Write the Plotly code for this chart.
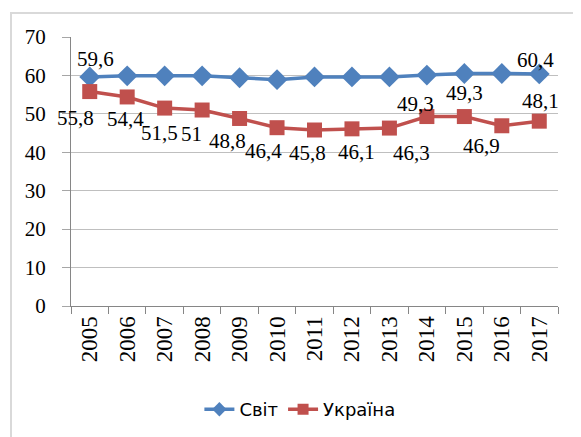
import plotly.graph_objects as go

years = ["2005", "2006", "2007", "2008", "2009", "2010", "2011",
         "2012", "2013", "2014", "2015", "2016", "2017"]
world = [59.6, 59.9, 59.9, 59.9, 59.4, 58.9, 59.6, 59.6, 59.6, 60.1, 60.5, 60.5, 60.4]
ukraine = [55.8, 54.4, 51.5, 51.0, 48.8, 46.4, 45.8, 46.1, 46.3, 49.3, 49.3, 46.9, 48.1]
world_labelled = [0, 12]
y_ticks = [0, 10, 20, 30, 40, 50, 60, 70]

# label nudges (px) to mimic the manually placed Excel labels
ukr_label_shift = [(-14, -26), (-2, -22), (-5, -25), (-11, -24), (-12, -23), (-14, -23),
                   (-7, -23), (5, -23), (22, -25), (-11, 13), (0, 24), (-20, -20), (1, 20)]
world_label_shift = {0: (6, 18), 12: (-4, 14)}

BLUE = "#4F81BD"
RED = "#C0504D"
SERIF = "Liberation Serif, Times New Roman, serif"


def fmt(v):
    if float(v).is_integer():
        return str(int(v))
    return f"{v:.1f}".replace(".", ",")


fig = go.Figure()
fig.add_trace(go.Scatter(
    x=years, y=world, name="Світ", mode="lines+markers", legendgroup="w", showlegend=False,
    line=dict(color=BLUE, width=3.5),
    marker=dict(symbol="diamond", size=16, color=BLUE),
))
fig.add_trace(go.Scatter(
    x=years, y=ukraine, name="Україна", mode="lines+markers", legendgroup="u", showlegend=False,
    line=dict(color=RED, width=3.5),
    marker=dict(symbol="square", size=15, color=RED),
))
# legend-only entries with the smaller Excel legend symbols
fig.add_trace(go.Scatter(
    x=[None], y=[None], name="Світ", mode="lines+markers", legendgroup="w",
    line=dict(color=BLUE, width=3.5), marker=dict(symbol="diamond", size=11, color=BLUE),
))
fig.add_trace(go.Scatter(
    x=[None], y=[None], name="Україна", mode="lines+markers", legendgroup="u",
    line=dict(color=RED, width=3.5), marker=dict(symbol="square", size=11, color=RED),
))

annotations = []
for i, v in enumerate(ukraine):
    dx, dy = ukr_label_shift[i]
    annotations.append(dict(x=i, y=v, xref="x", yref="y", text=fmt(v), showarrow=False,
                            xshift=dx, yshift=dy,
                            font=dict(family=SERIF, size=21, color="#000000")))
for i in world_labelled:
    dx, dy = world_label_shift[i]
    annotations.append(dict(x=i, y=world[i], xref="x", yref="y", text=fmt(world[i]),
                            showarrow=False, xshift=dx, yshift=dy,
                            font=dict(family=SERIF, size=21, color="#000000")))

fig.update_layout(
    width=573, height=429,
    margin=dict(l=63, r=23, t=29, b=131, autoexpand=False),
    paper_bgcolor="white", plot_bgcolor="white",
    showlegend=True,
    legend=dict(orientation="h", x=0.47, xanchor="center", y=-0.385, yanchor="middle",
                font=dict(family="DejaVu Sans, sans-serif", size=18, color="#000000"),
                bgcolor="rgba(0,0,0,0)"),
    annotations=annotations,
    shapes=[dict(type="rect", xref="paper", yref="paper",
                 x0=-0.1232, x1=1.09, y0=-0.6, y1=1.089,
                 line=dict(color="#D9D9D9", width=2), fillcolor="rgba(0,0,0,0)",
                 layer="below")],
)
fig.update_xaxes(
    type="category", range=[-0.5, len(years) - 0.5],
    tickson="boundaries", ticks="outside", ticklen=7,
    tickcolor="#868686", showline=True, linecolor="#868686", linewidth=1,
    showgrid=False, tickangle=-90, automargin=False,
    tickfont=dict(family=SERIF, size=23, color="#000000"),
)
fig.update_yaxes(
    range=[0, 70], tickvals=y_ticks, ticks="outside", ticklen=8,
    tickcolor="#A6A6A6", showline=True, linecolor="#868686", linewidth=1,
    showgrid=True, gridcolor="#BFBFBF", gridwidth=1, zeroline=False,
    automargin=False, ticklabelstandoff=12,
    tickfont=dict(family=SERIF, size=21, color="#000000"),
)

fig.write_html("out.html")
